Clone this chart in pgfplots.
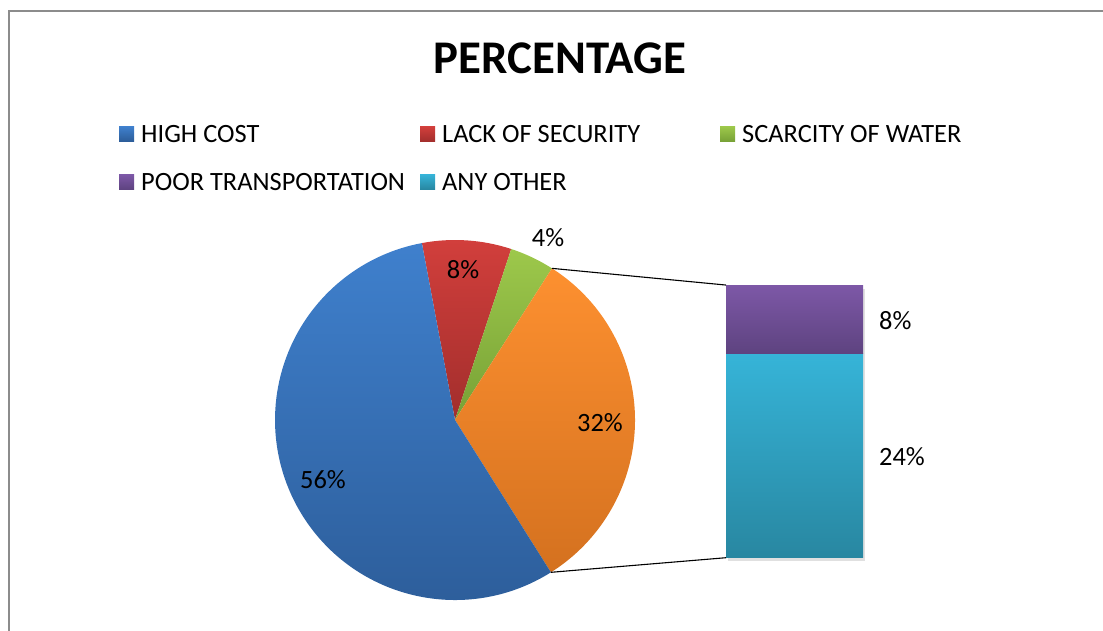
\documentclass[border=0pt]{standalone}
\usepackage{pgfplots}
\pgfplotsset{compat=1.18}
\usepackage{fontspec}
\setmainfont{Carlito}

% colours (top and bottom of each gradient)
\definecolor{blueT}{HTML}{3F80CD}\definecolor{blueB}{HTML}{2C5C98}
\definecolor{redT}{HTML}{D23F3C}\definecolor{redB}{HTML}{A22E2C}
\definecolor{greenT}{HTML}{9DC84B}\definecolor{greenB}{HTML}{77A136}
\definecolor{orangeT}{HTML}{FD9030}\definecolor{orangeB}{HTML}{D4711F}
\definecolor{purpleT}{HTML}{7D58A7}\definecolor{purpleB}{HTML}{5E4380}
\definecolor{tealT}{HTML}{36B4D8}\definecolor{tealB}{HTML}{2887A1}

% pie values (clockwise from the start angle) and the split-out bar values
\def\startangle{100.6}
\def\barunit{8.52}

\begin{document}
\begin{tikzpicture}
\useasboundingbox (0,0) rectangle (1103bp,631bp);
\begin{axis}[
	at={(0,0)}, anchor=origin,
	x=1bp, y=1bp,
	xmin=0, xmax=1103, ymin=0, ymax=631,
	enlargelimits=false,
	hide axis,
	clip=false,
]
\pgfplotsextra{
	% pie
	\xdef\curangle{\startangle}
	\foreach \v/\ct/\cb in {8/redT/redB, 4/greenT/greenB, 32/orangeT/orangeB, 56/blueT/blueB} {
		\pgfmathsetmacro\endangle{\curangle - 3.6*\v}
		\shade[top color=\ct, bottom color=\cb]
			(axis cs:455,211) -- ++(\curangle:180bp)
			arc[start angle=\curangle, end angle=\endangle, radius=180bp] -- cycle;
		\xdef\curangle{\endangle}
	}
	% bar of pie: ANY OTHER 24, POOR TRANSPORTATION 8
	\pgfmathsetmacro\ya{73.3+24*\barunit}
	\pgfmathsetmacro\yb{\ya+8*\barunit}
	\fill[black!12] (axis cs:728,70) rectangle (axis cs:865,\yb-4);
	\shade[top color=tealT, bottom color=tealB] (axis cs:726,73.3) rectangle (axis cs:863,\ya);
	\shade[top color=purpleT, bottom color=purpleB] (axis cs:726,\ya) rectangle (axis cs:863,\yb);
	% connectors
	\pgfmathsetmacro\aa{\startangle-3.6*12}
	\pgfmathsetmacro\ab{\startangle-3.6*44}
	\draw[black, line width=1.1bp] (axis cs:455,211) ++(\aa:180bp) -- (axis cs:726,\yb);
	\draw[black, line width=1.1bp] (axis cs:455,211) ++(\ab:180bp) -- (axis cs:726,73.3);
	% data labels
	\begin{scope}[font=\fontsize{26.5}{30}\selectfont]
	\node at (axis cs:463,361) {8\%};
	\node at (axis cs:548,393) {4\%};
	\node at (axis cs:600,208) {32\%};
	\node at (axis cs:323,151) {56\%};
	\node[anchor=west, inner sep=0pt] at (axis cs:879,310) {8\%};
	\node[anchor=west, inner sep=0pt] at (axis cs:879,174) {24\%};
	\end{scope}
}
\end{axis}
% chart frame
\draw[color=black!45, line width=1.3bp] (9bp,0) -- (9bp,620bp) -- (1103bp,620bp);
% title
\node[anchor=base, font=\fontsize{47}{52}\selectfont\bfseries] at (560bp,557bp) {PERCENTAGE};
% legend
\begin{scope}[font=\fontsize{26.5}{30}\selectfont]
\foreach \x/\y/\ct/\cb/\t in {
	119/497/blueT/blueB/HIGH COST,
	420/497/redT/redB/LACK OF SECURITY,
	720/497/greenT/greenB/SCARCITY OF WATER,
	119/449/purpleT/purpleB/POOR TRANSPORTATION,
	420/449/tealT/tealB/ANY OTHER} {
	\shade[top color=\ct, bottom color=\cb] (\x bp,\y bp-7.5bp) rectangle ++(15bp,15bp);
	\node[anchor=west, inner sep=0pt] at (\x bp+22bp,\y bp) {\t};
}
\end{scope}
\end{tikzpicture}
\end{document}
